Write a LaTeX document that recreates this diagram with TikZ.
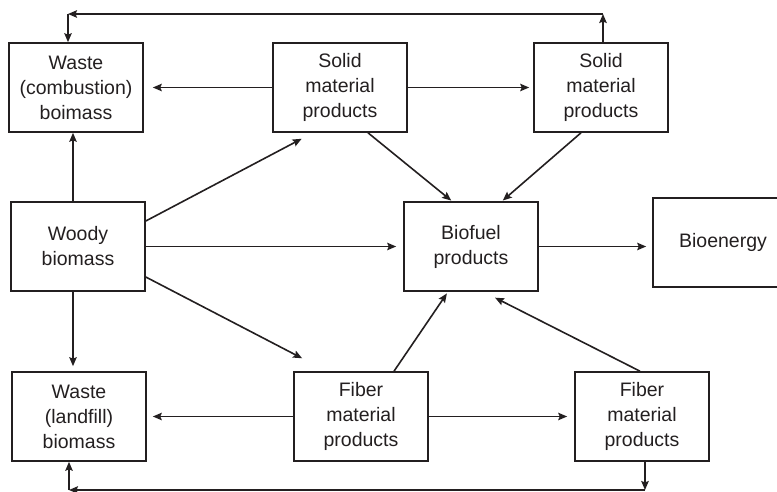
\documentclass[tikz,border=0pt]{standalone}
\usepackage{fontspec}
\setmainfont{Liberation Sans}
\usetikzlibrary{arrows.meta}
\definecolor{ink}{HTML}{231F20}
\begin{document}
\begin{tikzpicture}[x=1pt,y=-1pt,
  box/.style={draw=ink,line width=1.6pt,rectangle,minimum width=134pt,minimum height=89pt,inner sep=0pt,align=center,text=ink,font=\fontsize{19.5}{25}\selectfont},
  arr/.style={draw=ink,line width=1.6pt,-{Stealth[length=9pt,width=7.5pt,inset=1.5pt]}},
  ln/.style={draw=ink,line width=1.6pt}]
\useasboundingbox (0,0) rectangle (777,492);
\node[box] (wc) at (76,87.5) {Waste\\(combustion)\\boimass};
\node[box] (s1) at (340,87.5) {Solid\\material\\products};
\node[box] (s2) at (601,87.5) {Solid\\material\\products};
\node[box] (wb) at (78,246.5) {Woody\\biomass};
\node[box] (bf) at (471,246.5) {Biofuel\\products};
\node[box,minimum width=140pt] (be) at (723,242.5) {Bioenergy};
\node[box] (wl) at (79,416.5) {Waste\\(landfill)\\biomass};
\node[box] (f1) at (361,416.5) {Fiber\\material\\products};
\node[box] (f2) at (642,416.5) {Fiber\\material\\products};
\coordinate (tr) at (603,14);
\coordinate (tl) at (68,14);
\coordinate (br) at (645,490);
\coordinate (bl) at (69,490);
% woody
\draw[arr] ([xshift=-5pt]wb.north) -- ([xshift=-5pt]wb.north |- wc.south);
\draw[arr,shorten >=12.8pt] ([yshift=25.5pt]wb.east) -- ([xshift=-27pt]s1.south);
\draw[arr,shorten >=7pt] (wb.east) -- (bf.west);
\draw[arr,shorten >=28pt] ([yshift=-30.5pt]wb.east) -- ([xshift=-34pt]f1.north);
\draw[arr,shorten >=5pt] ([xshift=-5pt]wb.south) -- ([xshift=-5pt]wb.south |- wl.north);
% solid
\draw[arr,shorten >=9pt] (s1.west) -- (wc.east);
\draw[arr,shorten >=4pt] (s1.east) -- (s2.west);
\draw[arr,shorten >=1pt] ([xshift=28pt]s1.south) -- ([xshift=-19pt]bf.north);
\draw[arr,shorten >=1pt] ([xshift=-20pt]s2.south) -- ([xshift=31pt]bf.north);
\draw[arr] ([xshift=2pt]s2.north) -- (tr);
\draw[arr] (tr) -- (tl);
\draw[arr] (tl) -- (tl |- wc.north);
% biofuel
\draw[arr,shorten >=6pt] (bf.east) -- (bf.east -| be.west);
% fiber
\draw[arr,shorten >=6pt] (f1.west) -- (wl.east);
\draw[arr,shorten >=7pt] (f1.east) -- (f2.west);
\draw[arr,shorten >=2pt] ([xshift=33pt]f1.north) -- ([xshift=-23pt]bf.south);
\draw[arr,shorten >=13pt] ([xshift=-2pt]f2.north) -- ([xshift=12.4pt]bf.south);
\draw[arr] ([xshift=3pt]f2.south) -- (br);
\draw[arr] (br) -- (bl);
\draw[arr] (bl) -- (bl |- wl.south);
\end{tikzpicture}
\end{document}
